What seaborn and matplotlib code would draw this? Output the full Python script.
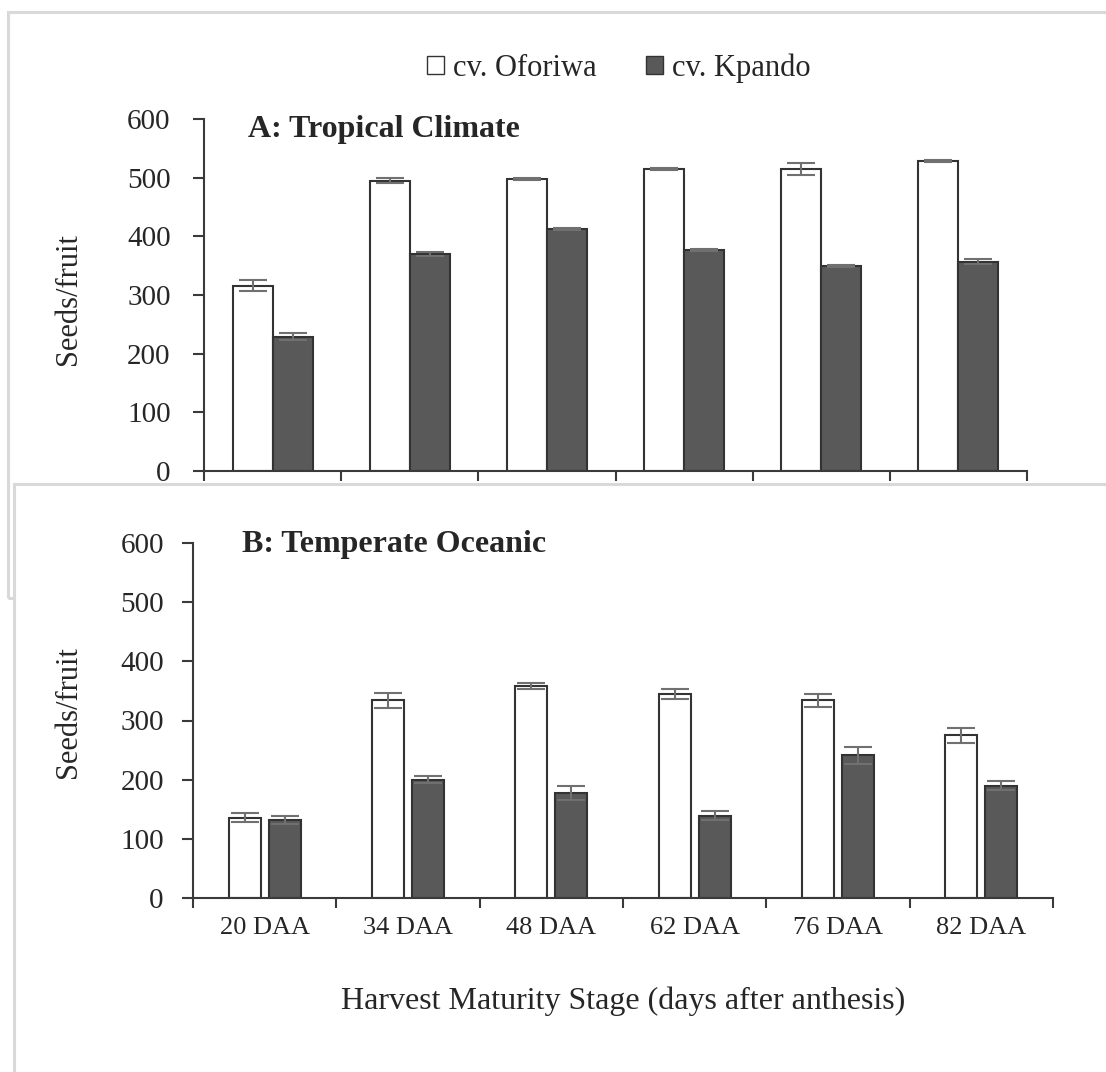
import numpy as np
import pandas as pd
import matplotlib
matplotlib.use("Agg")
import matplotlib.pyplot as plt
from matplotlib.patches import Rectangle
import seaborn as sns

# ---------------- data ----------------
stages = ["20 DAA", "34 DAA", "48 DAA", "62 DAA", "76 DAA", "82 DAA"]
cultivars = ["cv. Oforiwa", "cv. Kpando"]

tropical_oforiwa = [316, 495, 498, 515, 515, 528]
tropical_oforiwa_err = [9, 4, 1.5, 1.5, 10, 2]
tropical_kpando = [229, 370, 412, 377, 349, 357]
tropical_kpando_err = [6, 4, 1.5, 1.5, 1.5, 4]

temperate_oforiwa = [136, 334, 358, 345, 334, 275]
temperate_oforiwa_err = [8, 13, 5, 8, 11, 13]
temperate_kpando = [132, 200, 178, 139, 241, 190]
temperate_kpando_err = [7, 6, 12, 8, 15, 7]

y_ticks = [0, 100, 200, 300, 400, 500, 600]
title_a = "A: Tropical Climate"
title_b = "B: Temperate Oceanic"
y_label = "Seeds/fruit"
x_label = "Harvest Maturity Stage (days after anthesis)"

# ---------------- style ----------------
sns.set_style("white")
plt.rcParams["font.family"] = ["Liberation Serif", "DejaVu Serif"]
plt.rcParams["axes.edgecolor"] = "#3a3a3a"

W, H = 1106, 1072
fig = plt.figure(figsize=(W / 100, H / 100), dpi=100)
fig.patch.set_facecolor("white")

def fx(px):
    return px / W

def fy(py):
    return 1 - py / H

palette = {"cv. Oforiwa": "white", "cv. Kpando": "#595959"}
FS_XT = 19
FS_YT = 21
FS_LEG = 22
FS_TITLE = 23
FS_XL = 23
FS_YL = 22

def make_df(v1, v2):
    return pd.DataFrame({
        "stage": stages * 2,
        "seeds": list(v1) + list(v2),
        "cultivar": [cultivars[0]] * len(stages) + [cultivars[1]] * len(stages),
    })

# grey panel frames
boxA = Rectangle((fx(8), fy(598)), fx(1130) - fx(8), fy(12) - fy(598),
                 transform=fig.transFigure, facecolor="none",
                 edgecolor="#d9d9d9", linewidth=2.2, zorder=-2)
boxB = Rectangle((fx(14), fy(1100)), fx(1130) - fx(14), fy(484) - fy(1100),
                 transform=fig.transFigure, facecolor="white",
                 edgecolor="#d9d9d9", linewidth=2.2, zorder=-1)
fig.add_artist(boxA)
fig.add_artist(boxB)

axA = fig.add_axes([fx(204), fy(471), fx(1027) - fx(204), fy(119) - fy(471)])
axB = fig.add_axes([fx(193), fy(898), fx(1053) - fx(193), fy(543) - fy(898)])


def draw(ax, v1, e1, v2, e2, width, gap, legend):
    df = make_df(v1, v2)
    sns.barplot(data=df, x="stage", y="seeds", hue="cultivar",
                hue_order=cultivars, order=stages, palette=palette,
                width=width, gap=gap, errorbar=None, edgecolor="#333333",
                linewidth=1.5, legend=legend, ax=ax, zorder=2)
    for cont, errs in zip(ax.containers, [e1, e2]):
        for patch, err in zip(cont.patches, errs):
            xc = patch.get_x() + patch.get_width() / 2
            ax.errorbar(xc, patch.get_height(), yerr=err, fmt="none",
                        ecolor="#707070", elinewidth=1.5, capsize=10,
                        capthick=1.5, zorder=3)
    ax.set_ylim(0, 600)
    ax.set_xlim(-0.5, len(stages) - 0.5)
    ax.set_yticks(y_ticks)
    ax.set_facecolor("none")
    sns.despine(ax=ax)
    for s in ["left", "bottom"]:
        ax.spines[s].set_linewidth(1.5)
        ax.spines[s].set_color("#3a3a3a")
    ax.set_xticks(np.arange(-0.5, len(stages)), minor=True)
    ax.tick_params(axis="x", which="minor", length=7, width=1.5,
                   color="#3a3a3a", direction="out", bottom=True)
    ax.tick_params(axis="x", which="major", length=0)
    ax.set_ylabel("")
    ax.set_xlabel("")


draw(axA, tropical_oforiwa, tropical_oforiwa_err, tropical_kpando,
     tropical_kpando_err, 0.584, 0, True)
draw(axB, temperate_oforiwa, temperate_oforiwa_err, temperate_kpando,
     temperate_kpando_err, 0.56, 0.2, False)

# y ticks
axA.tick_params(axis="y", length=8, width=1.5, color="#3a3a3a",
                direction="out", left=True, labelsize=FS_YT, pad=16)
axB.tick_params(axis="y", length=8, width=1.5, color="#3a3a3a",
                direction="out", left=True, labelsize=FS_YT, pad=13)
axA.tick_params(axis="x", labelbottom=False)
axB.tick_params(axis="x", which="major", labelsize=FS_XT, pad=14)

axB.set_xlabel(x_label, fontsize=FS_XL, labelpad=34)

# titles inside panels
axA.text(0.053, 0.949, title_a, transform=axA.transAxes, fontsize=FS_TITLE,
         fontweight="bold", ha="left", va="baseline")
axB.text(0.0566, 0.9755, title_b, transform=axB.transAxes, fontsize=FS_TITLE,
         fontweight="bold", ha="left", va="baseline")

# y labels
fig.text(fx(68), fy(299), y_label, rotation=90, fontsize=FS_YL,
         ha="center", va="center")
fig.text(fx(68), fy(712), y_label, rotation=90, fontsize=FS_YL,
         ha="center", va="center")

# legend
leg = axA.get_legend()
handles = leg.legend_handles
labels = [t.get_text() for t in leg.get_texts()]
leg.remove()
for h in handles:
    h.set_edgecolor("#333333")
    h.set_linewidth(1.0)
fig.legend(handles, labels, loc="center", bbox_to_anchor=(fx(619), fy(68)),
           ncol=2, frameon=False, fontsize=FS_LEG, handlelength=0.55,
           handleheight=0.55, handletextpad=0.3, columnspacing=1.6)

fig.savefig("out.png", dpi=100, facecolor="white")
